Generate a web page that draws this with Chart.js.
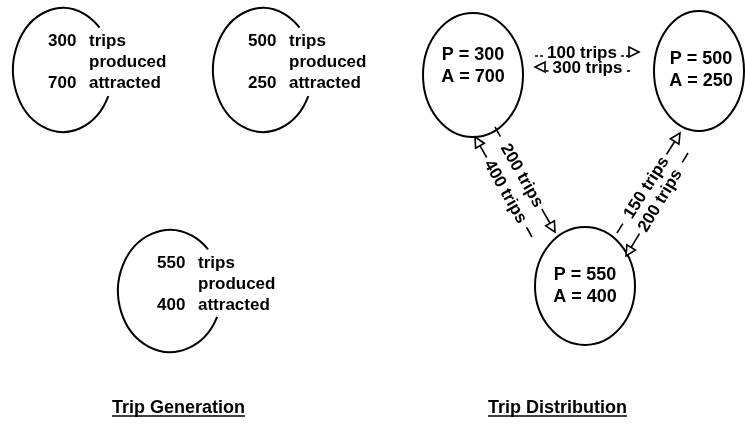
<!DOCTYPE html>
<html>
<head>
<meta charset="utf-8">
<script src="https://cdn.jsdelivr.net/npm/chart.js@4.4.1/dist/chart.umd.min.js"></script>
<style>
  body { margin: 0; background: #fff; }
  #wrap { width: 745px; height: 427px; }
</style>
</head>
<body>
<div id="wrap"><canvas id="tripChart" width="745" height="427"></canvas></div>
<script>
// zone data
const zones = ["1", "2", "3"];
const produced = [300, 500, 550];
const attracted = [700, 250, 400];

// trip distribution flows (zone index from -> to)
const flowFrom = [0, 1, 0, 2, 2, 1];
const flowTo = [1, 0, 2, 0, 1, 2];
const flowTrips = [100, 300, 200, 400, 150, 200];

const panelTitles = ["Trip Generation", "Trip Distribution"];

// layout, in axis units (x 0..745, y 0..427 top-down)
const genOval = [
  { cx: 63, cy: 70, rx: 50, ry: 62 },
  { cx: 263, cy: 70, rx: 50, ry: 62 },
  { cx: 170, cy: 291, rx: 52, ry: 61 }
];
const genLabel = [
  { x: 48, wx: 89, y: 46 },
  { x: 248, wx: 289, y: 46 },
  { x: 157, wx: 198, y: 268 }
];
const distOval = [
  { cx: 473, cy: 75, rx: 50, ry: 62 },
  { cx: 699, cy: 71, rx: 45, ry: 60 },
  { cx: 585, cy: 286, rx: 50, ry: 59 }
];
const distLabel = [
  { x: 473, y: 60 },
  { x: 701, y: 64 },
  { x: 585, y: 280 }
];
const lanes = [
  [535, 52, 639, 52],
  [630, 67, 535, 67],
  [495, 127, 555, 232],
  [532, 237, 475, 137],
  [617, 233, 680, 133],
  [688, 153, 626, 256]
];
const titlePos = [{ x: 112, y: 413 }, { x: 488, y: 413 }];

const FONT = '"Liberation Sans", Arial, sans-serif';

function px(chart, x, y) {
  return [chart.scales.x.getPixelForValue(x), chart.scales.y.getPixelForValue(y)];
}

function drawArrowHead(ctx, tx, ty, dx, dy) {
  const len = 10, half = 5;
  const bx = tx - dx * len, by = ty - dy * len;
  const nx = -dy, ny = dx;
  ctx.save();
  ctx.beginPath();
  ctx.moveTo(tx, ty);
  ctx.lineTo(bx + nx * half, by + ny * half);
  ctx.lineTo(bx - nx * half, by - ny * half);
  ctx.closePath();
  ctx.fillStyle = "#fff";
  ctx.fill();
  ctx.stroke();
  ctx.restore();
}

const diagramPlugin = {
  id: "tripDiagram",
  afterDraw(chart) {
    const ctx = chart.ctx;
    ctx.save();
    ctx.strokeStyle = "#000";
    ctx.fillStyle = "#000";
    ctx.lineWidth = 2;

    // trip generation: open ovals + labels
    zones.forEach((z, i) => {
      const o = genOval[i];
      const [cx, cy] = px(chart, o.cx, o.cy);
      ctx.lineWidth = 2;
      ctx.beginPath();
      ctx.ellipse(cx, cy, o.rx, o.ry, 0, 25 * Math.PI / 180, 317 * Math.PI / 180);
      ctx.stroke();

      const l = genLabel[i];
      ctx.font = "bold 17px " + FONT;
      ctx.textBaseline = "alphabetic";
      ctx.textAlign = "left";
      ctx.fillStyle = "#000";
      const [nx, ny] = px(chart, l.x, l.y);
      const [wx] = px(chart, l.wx, l.y);
      ctx.fillText(String(produced[i]), nx, ny);
      ctx.fillText("trips", wx, ny);
      ctx.fillText("produced", wx, ny + 21);
      ctx.fillText(String(attracted[i]), nx, ny + 42);
      ctx.fillText("attracted", wx, ny + 42);
    });

    // trip distribution: closed ovals
    zones.forEach((z, i) => {
      const o = distOval[i];
      const [cx, cy] = px(chart, o.cx, o.cy);
      ctx.lineWidth = 2;
      ctx.beginPath();
      ctx.ellipse(cx, cy, o.rx, o.ry, 0, 0, Math.PI * 2);
      ctx.stroke();

      const l = distLabel[i];
      const [lx, ly] = px(chart, l.x, l.y);
      ctx.font = "bold 18px " + FONT;
      ctx.textAlign = "center";
      ctx.textBaseline = "alphabetic";
      ctx.fillStyle = "#000";
      ctx.fillText("P = " + produced[i], lx, ly);
      ctx.fillText("A = " + attracted[i], lx, ly + 22);
    });

    // flows
    flowTrips.forEach((t, i) => {
      const ln = lanes[i];
      const [sx, sy] = px(chart, ln[0], ln[1]);
      const [ex, ey] = px(chart, ln[2], ln[3]);
      const L = Math.hypot(ex - sx, ey - sy);
      const dx = (ex - sx) / L, dy = (ey - sy) / L;
      const headLen = 10;
      const usable = L - headLen;
      const label = t + " trips";
      ctx.font = "bold 17px " + FONT;
      const tw = ctx.measureText(label).width;
      const mid = usable / 2;
      const t0 = mid - tw / 2 - 4, t1 = mid + tw / 2 + 4;
      const horiz = Math.abs(dy) < 0.01;
      const off = horiz ? 4 : 0;
      const lead = horiz ? t0 : Math.min(t0, 11);

      ctx.lineWidth = 1.6;
      ctx.setLineDash(horiz ? [3, 2] : []);
      ctx.beginPath();
      ctx.moveTo(sx, sy + off);
      ctx.lineTo(sx + dx * lead, sy + dy * lead + off);
      ctx.stroke();
      ctx.beginPath();
      ctx.moveTo(sx + dx * t1, sy + dy * t1 + off);
      ctx.lineTo(sx + dx * usable, sy + dy * usable + off);
      ctx.stroke();
      ctx.setLineDash([]);
      drawArrowHead(ctx, ex, ey, dx, dy);

      // label, kept readable
      let ang = Math.atan2(dy, dx);
      if (ang > Math.PI / 2) ang -= Math.PI;
      if (ang < -Math.PI / 2) ang += Math.PI;
      ctx.save();
      ctx.translate(sx + dx * mid, sy + dy * mid);
      ctx.rotate(ang);
      ctx.fillStyle = "#000";
      ctx.textAlign = "center";
      ctx.textBaseline = "middle";
      ctx.fillText(label, 0, 1);
      ctx.restore();
    });

    // panel titles, underlined
    ctx.font = "bold 18px " + FONT;
    ctx.textAlign = "left";
    ctx.textBaseline = "alphabetic";
    ctx.fillStyle = "#000";
    ctx.lineWidth = 1.5;
    panelTitles.forEach((s, i) => {
      const [tx, ty] = px(chart, titlePos[i].x, titlePos[i].y);
      ctx.fillText(s, tx, ty);
      const w = ctx.measureText(s).width;
      ctx.beginPath();
      ctx.moveTo(tx, ty + 3);
      ctx.lineTo(tx + w, ty + 3);
      ctx.stroke();
    });
    ctx.restore();
  }
};

new Chart(document.getElementById("tripChart"), {
  type: "scatter",
  data: {
    datasets: [{
      label: "zones",
      data: distOval.map(o => ({ x: o.cx, y: o.cy })),
      pointRadius: 0,
      showLine: false
    }]
  },
  options: {
    responsive: false,
    animation: false,
    layout: { padding: 0 },
    plugins: { legend: { display: false }, tooltip: { enabled: false } },
    scales: {
      x: { type: "linear", min: 0, max: 745, display: false },
      y: { type: "linear", min: 0, max: 427, reverse: true, display: false }
    }
  },
  plugins: [diagramPlugin]
});
</script>
</body>
</html>
